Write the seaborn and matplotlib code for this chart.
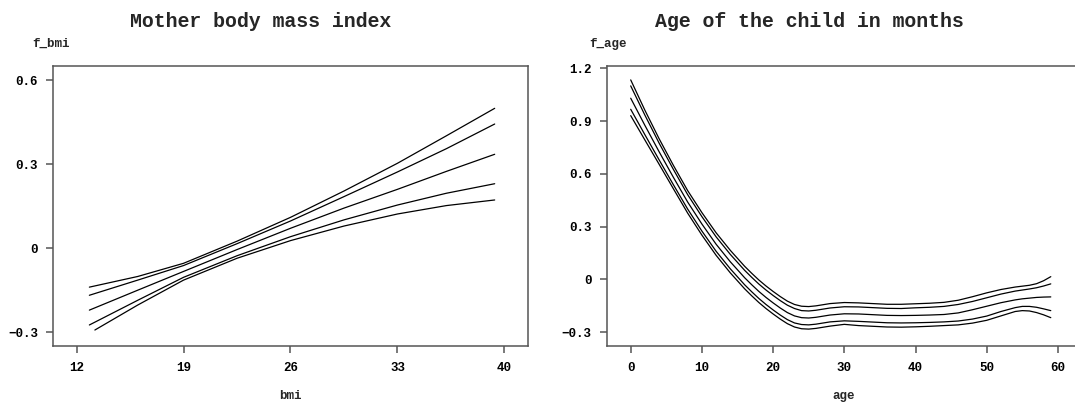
import numpy as np
import pandas as pd
import seaborn as sns
import matplotlib
matplotlib.use("Agg")
import matplotlib.pyplot as plt

# --- left panel: mother body mass index (estimate with two bands) ---
bmi = [12.84, 16, 19, 22.5, 26, 29.5, 33, 36.2, 39.36]
bmi_lo = [13.2, 16, 19, 22.5, 26, 29.5, 33, 36.2, 39.36]
bmi_upper95 = [-0.139, -0.101, -0.054, 0.025, 0.110, 0.204, 0.303, 0.401, 0.499]
bmi_upper80 = [-0.168, -0.114, -0.062, 0.016, 0.097, 0.184, 0.272, 0.355, 0.443]
bmi_mean = [-0.221, -0.150, -0.083, -0.005, 0.071, 0.143, 0.210, 0.274, 0.335]
bmi_lower80 = [-0.274, -0.186, -0.104, -0.027, 0.041, 0.101, 0.154, 0.196, 0.230]
bmi_lower95 = [-0.292, -0.203, -0.114, -0.036, 0.027, 0.079, 0.122, 0.152, 0.172]

# --- right panel: age of the child in months ---
age = [0, 2, 4, 6, 8, 10, 12, 14, 16, 17, 18, 19, 20, 21, 22, 23, 24, 25, 26,
       28, 30, 32, 34, 36, 38, 40, 42, 44, 46, 48, 50, 52, 54, 55, 56, 57, 58, 59]
age_upper95 = [1.134, 0.961, 0.799, 0.648, 0.505, 0.380, 0.265, 0.165, 0.075,
               0.035, -0.003, -0.037, -0.068, -0.097, -0.123, -0.142, -0.152,
               -0.154, -0.150, -0.137, -0.131, -0.133, -0.137, -0.141, -0.141,
               -0.138, -0.135, -0.130, -0.118, -0.098, -0.076, -0.057, -0.043,
               -0.038, -0.033, -0.024, -0.007, 0.016]
age_upper80 = [1.100, 0.933, 0.774, 0.625, 0.482, 0.357, 0.242, 0.142, 0.052,
               0.012, -0.026, -0.060, -0.091, -0.120, -0.146, -0.165, -0.177,
               -0.179, -0.175, -0.162, -0.155, -0.156, -0.160, -0.164, -0.165,
               -0.161, -0.158, -0.153, -0.142, -0.125, -0.104, -0.083, -0.066,
               -0.060, -0.054, -0.047, -0.037, -0.025]
age_mean = [1.030, 0.875, 0.725, 0.580, 0.440, 0.315, 0.200, 0.100, 0.010,
            -0.030, -0.068, -0.102, -0.133, -0.162, -0.188, -0.207, -0.217,
            -0.219, -0.215, -0.202, -0.195, -0.196, -0.200, -0.204, -0.205,
            -0.204, -0.202, -0.199, -0.190, -0.172, -0.152, -0.132, -0.116,
            -0.110, -0.106, -0.102, -0.100, -0.099]
age_lower80 = [0.967, 0.822, 0.679, 0.538, 0.400, 0.275, 0.160, 0.060, -0.030,
               -0.070, -0.108, -0.142, -0.173, -0.202, -0.228, -0.247, -0.256,
               -0.258, -0.254, -0.241, -0.235, -0.238, -0.242, -0.246, -0.247,
               -0.246, -0.244, -0.241, -0.236, -0.225, -0.208, -0.182, -0.160,
               -0.153, -0.153, -0.158, -0.167, -0.177]
age_lower95 = [0.931, 0.792, 0.654, 0.515, 0.377, 0.252, 0.137, 0.037, -0.053,
               -0.093, -0.131, -0.165, -0.196, -0.225, -0.251, -0.270, -0.280,
               -0.282, -0.278, -0.265, -0.255, -0.262, -0.266, -0.270, -0.271,
               -0.269, -0.266, -0.262, -0.258, -0.248, -0.232, -0.207, -0.182,
               -0.177, -0.179, -0.188, -0.201, -0.217]

bmi_ticks = [12, 19, 26, 33, 40]
bmi_yticks = [-0.3, 0, 0.3, 0.6]
bmi_ylabels = ["\u22120.3", "0", "0.3", "0.6"]
age_ticks = [0, 10, 20, 30, 40, 50, 60]
age_yticks = [-0.3, 0, 0.3, 0.6, 0.9, 1.2]
age_ylabels = ["\u22120.3", "0", "0.3", "0.6", "0.9", "1.2"]

sns.set_style("white")
plt.rcParams["font.family"] = ["Liberation Mono", "DejaVu Sans Mono"]
plt.rcParams["font.weight"] = "bold"

W, H = 1075, 404
fig = plt.figure(figsize=(W / 100, H / 100), dpi=100)

def px_axes(left, top, right, bottom):
    return fig.add_axes([left / W, 1 - bottom / H, (right - left) / W, (bottom - top) / H])

ax1 = px_axes(53.3, 66, 527.7, 346)
ax2 = px_axes(607, 66, 1081.4, 346)

for xs, ys in [(bmi, bmi_upper95), (bmi, bmi_upper80), (bmi, bmi_mean),
               (bmi, bmi_lower80), (bmi_lo, bmi_lower95)]:
    sns.lineplot(x=xs, y=ys, ax=ax1, color="black", lw=0.9)
for ys in [age_upper95, age_upper80, age_mean, age_lower80, age_lower95]:
    sns.lineplot(x=age, y=ys, ax=ax2, color="black", lw=0.9)

ax1.set_xlim(10.48, 41.52)
ax1.set_ylim(-0.349, 0.650)
ax2.set_xlim(-3.33, 63.3)
ax2.set_ylim(-0.378, 1.213)

for ax, xt, yt, yl in [(ax1, bmi_ticks, bmi_yticks, bmi_ylabels),
                       (ax2, age_ticks, age_yticks, age_ylabels)]:
    ax.set_xticks(xt)
    ax.set_xticklabels([str(t) for t in xt])
    ax.set_yticks(yt)
    ax.set_yticklabels(yl)
    ax.tick_params(axis="both", direction="out", length=5, width=1.1,
                   color="#555555", labelsize=9, labelcolor="black",
                   bottom=True, left=True, top=False, right=False)
    ax.tick_params(axis="y", pad=6)
    ax.tick_params(axis="x", pad=6.5)
    for s in ax.spines.values():
        s.set_visible(True)
        s.set_color("#555555")
        s.set_linewidth(1.1)
    ax.set_xlabel("")
    ax.set_ylabel("")
    for lab in ax.get_xticklabels() + ax.get_yticklabels():
        lab.set_fontweight("bold")

def ftext(x, y, s, size, ha="center"):
    fig.text(x / W, 1 - y / H, s, fontsize=size, fontweight="bold",
             ha=ha, va="baseline")

ftext(260.8, 26.7, "Mother body mass index", 14.3)
ftext(809, 26.7, "Age of the child in months", 14.3)
ftext(51.5, 46.5, "f_bmi", 9)
ftext(607.5, 46.5, "f_age", 9)
ftext(290.5, 399, "bmi", 9)
ftext(844, 399, "age", 9)

fig.savefig("out.png", dpi=100)
